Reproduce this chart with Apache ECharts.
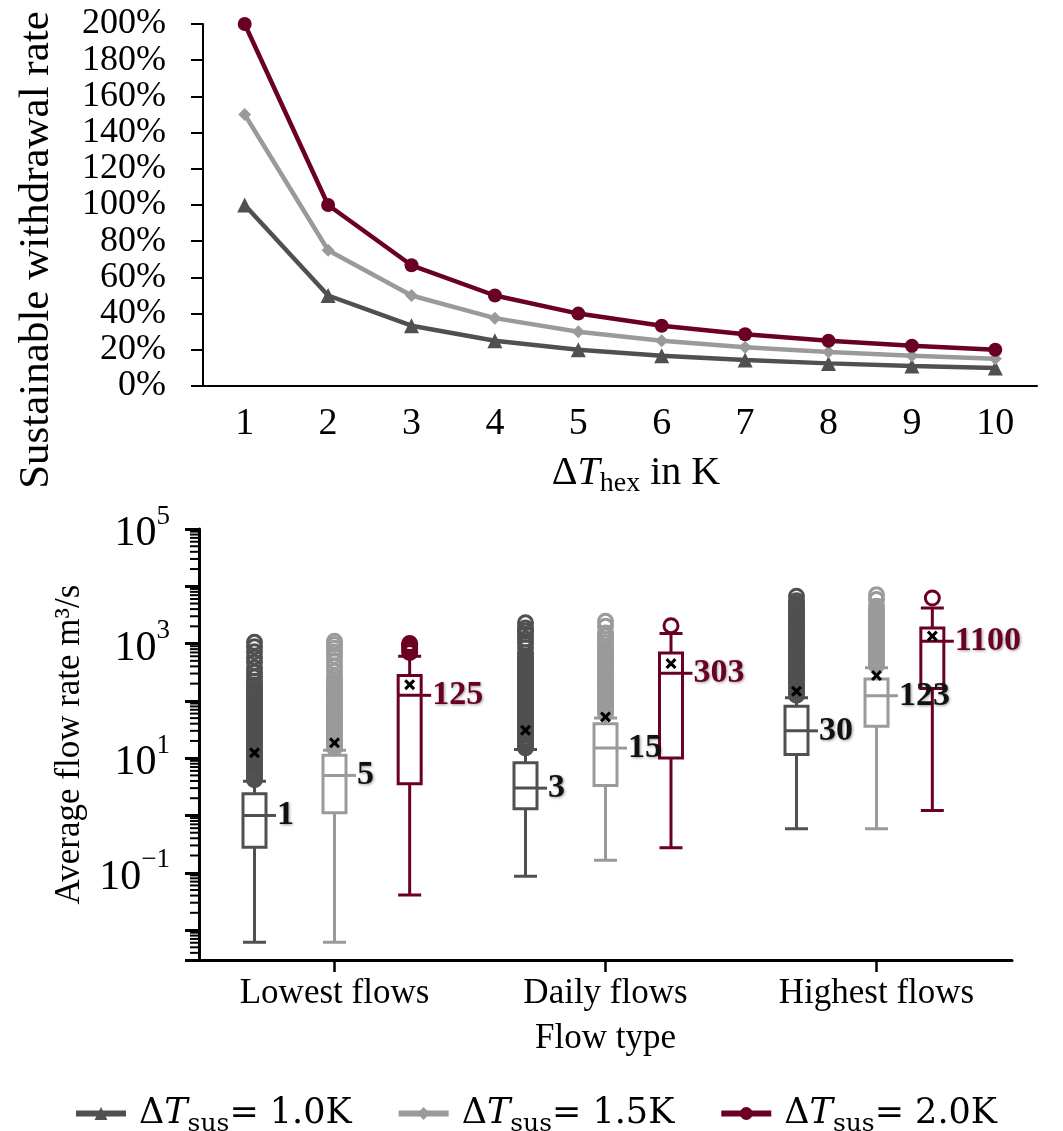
<!DOCTYPE html>
<html>
<head>
<meta charset="utf-8">
<title>Sustainable withdrawal rate and flow rates</title>
<script src="https://cdn.jsdelivr.net/npm/echarts@6/dist/echarts.min.js"></script>
<style>
    html, body { margin: 0; padding: 0; background: #fff; }
    #main { width: 1063px; height: 1131px; }
</style>
</head>
<body>
<div id="main"></div>
<script>
// 上图：ΔT_hex 对应的可持续取水率 (%)
var dtHex = ['1', '2', '3', '4', '5', '6', '7', '8', '9', '10'];
var rate10 = [100, 50, 33.3, 25, 20, 16.7, 14.3, 12.5, 11.1, 10];
var rate15 = [150, 75, 50, 37.5, 30, 25, 21.4, 18.8, 16.7, 15];
var rate20 = [200, 100, 66.7, 50, 40, 33.3, 28.6, 25, 22.2, 20];

// 下图：箱线图 [min, Q1, median, Q3, max]，单位 m³/s
var flowTypes = ['Lowest flows', 'Daily flows', 'Highest flows'];
var box10 = [[0.0061, 0.28, 1, 2.39, 3.95], [0.087, 1.31, 3, 8.28, 14.1], [0.585, 11.6, 30, 80.5, 113]];
var box15 = [[0.0061, 1.12, 5, 11.2, 13.8], [0.166, 3.33, 15, 39.7, 50], [0.585, 36, 123, 240, 380]];
var box20 = [[0.041, 3.56, 125, 276, 600], [0.273, 10.1, 303, 687, 1500], [1.22, 165, 1100, 1875, 4200]];

// 平均值 (x 标记)
var mean10 = [12.4, 30.7, 147];
var mean15 = [18.5, 52.5, 276];
var mean20 = [192, 447, 1350];

// 离群点
var out10 = [
    [4.2, 4.6, 5.1, 5.7, 6.3, 7, 7.8, 8.7, 9.6, 10.7, 11.9, 13.2, 14.7, 16.3, 18.1, 20.1, 22.4, 24.9, 27.6, 30.7,
        34.1, 37.9, 42, 46.7, 51.9, 57.6, 64, 71, 79, 88, 98, 109, 121, 134, 149, 166, 190, 220, 260, 315, 380, 470,
        580, 720, 880, 1050],
    [15, 16.6, 18.4, 20.4, 22.6, 25, 27.7, 30.7, 34, 37.7, 41.8, 46.3, 51.3, 56.9, 63, 70, 77.5, 86, 95, 105, 117,
        130, 144, 160, 177, 196, 217, 240, 266, 295, 327, 362, 401, 444, 492, 545, 604, 690, 850, 1020, 1200, 1450,
        1650, 1870, 2300],
    [125, 138, 153, 170, 188, 208, 231, 256, 283, 314, 348, 385, 427, 473, 524, 580, 643, 712, 789, 874, 968, 1070,
        1190, 1320, 1460, 1620, 1790, 1990, 2200, 2440, 2700, 3000, 3320, 3680, 4080, 4520, 5000, 5600, 6700]
];
var out15 = [
    [15, 16.6, 18.4, 20.4, 22.6, 25, 27.7, 30.7, 34, 37.7, 41.8, 46.3, 51.3, 56.9, 63, 70, 77.5, 86, 95, 105, 117,
        130, 144, 160, 180, 205, 235, 270, 330, 400, 490, 600, 710, 830, 960, 1100],
    [60, 66, 73, 81, 90, 100, 111, 123, 136, 151, 167, 185, 205, 227, 252, 279, 309, 342, 379, 420, 466, 516, 572,
        634, 702, 778, 890, 1020, 1180, 1350, 1530, 2000, 2450],
    [420, 465, 515, 570, 632, 700, 775, 860, 950, 1050, 1170, 1290, 1430, 1590, 1760, 1950, 2160, 2390, 2650, 2940,
        3250, 3600, 3900, 4470, 5860, 7100]
];
var out20 = [
    [700, 780, 860, 940, 1000],
    [2050],
    [6250]
];

// 对数轴的次刻度：每个数量级内的 2..9 倍
var minorMult = [2, 3, 4, 5, 6, 7, 8, 9];
var minorDecades = [-3, -2, -1, 0, 1, 2, 3, 4];

var colDark = '#505050';
var colLight = '#9a9a9a';
var colRed = '#6a0022';
var serif = 'Liberation Serif';

var crossPath = 'path://M0,2 L2,0 L5,3 L8,0 L10,2 L7,5 L10,8 L8,10 L5,7 L2,10 L0,8 L3,5 Z';

var myChart = echarts.init(document.getElementById('main'));

// 一组箱线图：箱体 + 离群点 + 平均值 + 中位数标签
function boxGroup(gi, stats, means, outs, color, textColor) {
    var outData = [];
    outs.forEach(function (arr, i) {
        arr.forEach(function (v) { outData.push([i, v]); });
    });
    return [{
        type: 'boxplot',
        xAxisIndex: gi,
        yAxisIndex: gi,
        data: stats,
        boxWidth: [23, 23],
        silent: true,
        z: 2,
        itemStyle: { color: '#fff', borderColor: color, borderWidth: 3 }
    }, {
        type: 'scatter',
        xAxisIndex: gi,
        yAxisIndex: gi,
        data: outData,
        symbol: 'circle',
        symbolSize: 14,
        silent: true,
        z: 3,
        itemStyle: { color: 'rgba(0,0,0,0)', borderColor: color, borderWidth: 3, opacity: 1 }
    }, {
        type: 'scatter',
        xAxisIndex: gi,
        yAxisIndex: gi,
        data: means.map(function (v, i) { return [i, v]; }),
        symbol: crossPath,
        symbolSize: 11,
        silent: true,
        z: 5,
        itemStyle: { color: '#000', opacity: 1 }
    }, {
        type: 'scatter',
        xAxisIndex: gi,
        yAxisIndex: gi,
        data: stats.map(function (s, i) { return [i, s[2]]; }),
        symbol: 'rect',
        symbolSize: [9, 3],
        symbolOffset: [17, 0],
        silent: true,
        z: 4,
        itemStyle: { color: color, opacity: 1 },
        label: {
            show: true,
            position: 'right',
            distance: 1,
            formatter: function (p) { return p.value[1]; },
            fontFamily: serif,
            fontSize: 34,
            fontWeight: 'bold',
            color: textColor,
            textShadowColor: 'rgba(0,0,0,0.4)',
            textShadowBlur: 3,
            textShadowOffsetX: 1,
            textShadowOffsetY: 1
        }
    }];
}

// 对数轴标签 10^n，只显示奇数次幂
function powLabel(v) {
    var lg = Math.log10(v);
    var e = Math.round(lg);
    if (Math.abs(lg - e) > 1e-6 || e % 2 === 0) return '';
    return '{b|10}{e|' + (e < 0 ? '\u2212' + (-e) : e) + '}';
}

function logAxis(gi, visible) {
    return {
        type: 'log',
        gridIndex: gi,
        min: 0.003,
        max: 100000,
        show: visible,
        splitLine: { show: false },
        axisLine: { show: true, lineStyle: { color: '#000', width: 3 } },
        axisTick: { show: true, length: 14, lineStyle: { color: '#000', width: 3 } },
        axisLabel: {
            margin: 29,
            formatter: powLabel,
            rich: {
                b: { fontFamily: serif, fontSize: 42, color: '#000', lineHeight: 52, verticalAlign: 'bottom' },
                e: { fontFamily: serif, fontSize: 27, color: '#000', lineHeight: 30, verticalAlign: 'top' }
            }
        },
        name: 'Average flow rate m\u00b3/s',
        nameLocation: 'middle',
        nameGap: 112,
        nameTextStyle: { fontFamily: serif, fontSize: 35, color: '#000' }
    };
}

function catAxis(gi, visible) {
    return {
        type: 'category',
        gridIndex: gi,
        data: flowTypes,
        show: visible,
        axisLine: { lineStyle: { color: '#000', width: 3 } },
        axisTick: { show: true, alignWithLabel: true, length: 12, lineStyle: { color: '#000', width: 2.5 } },
        axisLabel: { fontFamily: serif, fontSize: 35, color: '#000', margin: 16 },
        name: 'Flow type',
        nameLocation: 'middle',
        nameGap: 61,
        nameTextStyle: { fontFamily: serif, fontSize: 35, color: '#000' }
    };
}

var minorVals = [];
minorDecades.forEach(function (d) {
    minorMult.forEach(function (m) {
        var v = m * Math.pow(10, d);
        if (v > 0.003 && v < 100000) minorVals.push([0, v]);
    });
});

var subRich = {
    d: { fontFamily: serif, fontSize: 40, color: '#000', lineHeight: 40, verticalAlign: 'middle' },
    t: { fontFamily: serif, fontSize: 40, fontStyle: 'italic', color: '#000', lineHeight: 40, verticalAlign: 'middle' },
    s: { fontFamily: serif, fontSize: 28, color: '#000', lineHeight: 40, padding: [22, 0, 0, 0], verticalAlign: 'middle' }
};

var legRich = {
    d: { fontFamily: 'DejaVu Serif', fontSize: 35, color: '#000', lineHeight: 38, verticalAlign: 'middle' },
    t: { fontFamily: 'DejaVu Serif', fontSize: 35, fontStyle: 'italic', color: '#000', lineHeight: 38, verticalAlign: 'middle' },
    s: { fontFamily: 'DejaVu Serif', fontSize: 25, color: '#000', lineHeight: 38, padding: [22, 0, 0, 0], verticalAlign: 'middle' }
};

var series = [{
    name: '1.0K',
    type: 'line',
    xAxisIndex: 0,
    yAxisIndex: 0,
    data: rate10,
    symbol: 'triangle',
    symbolSize: 15,
    color: colDark,
    lineStyle: { width: 4.5 }
}, {
    name: '1.5K',
    type: 'line',
    xAxisIndex: 0,
    yAxisIndex: 0,
    data: rate15,
    symbol: 'diamond',
    symbolSize: 13,
    color: colLight,
    lineStyle: { width: 4.5 }
}, {
    name: '2.0K',
    type: 'line',
    xAxisIndex: 0,
    yAxisIndex: 0,
    data: rate20,
    symbol: 'circle',
    symbolSize: 14,
    color: colRed,
    lineStyle: { width: 4.5 }
}, {
    // 对数轴左侧的次刻度线
    type: 'custom',
    xAxisIndex: 2,
    yAxisIndex: 2,
    silent: true,
    clip: false,
    z: 10,
    data: minorVals,
    renderItem: function (params, api) {
        var p = api.coord([0, api.value(1)]);
        var x0 = params.coordSys.x;
        return {
            type: 'line',
            shape: { x1: x0 - 9, y1: p[1], x2: x0, y2: p[1] },
            style: { stroke: '#000', lineWidth: 2 }
        };
    }
}];

series = series
    .concat(boxGroup(1, box10, mean10, out10, colDark, '#111'))
    .concat(boxGroup(2, box15, mean15, out15, colLight, '#111'))
    .concat(boxGroup(3, box20, mean20, out20, colRed, colRed));

var option = {
    animation: false,
    backgroundColor: '#fff',
    grid: [
        { left: 203, right: 26, top: 24, height: 362 },
        { left: 119, width: 813, top: 529, height: 431 },
        { left: 199, width: 813, top: 529, height: 431 },
        { left: 279, width: 813, top: 529, height: 431 }
    ],
    legend: {
        data: ['1.0K', '1.5K', '2.0K'],
        left: 73,
        top: 1090,
        padding: 0,
        itemWidth: 50,
        itemHeight: 16,
        itemGap: 44,
        lineStyle: { width: 6 },
        formatter: function (name) {
            return '{d|\u0394}{t|T}{s|sus}{d|= ' + name + '}';
        },
        textStyle: { padding: [0, 0, 0, 8], rich: legRich }
    },
    xAxis: [{
        type: 'category',
        gridIndex: 0,
        data: dtHex,
        boundaryGap: true,
        axisLine: { lineStyle: { color: '#000', width: 2 } },
        axisTick: { show: false },
        axisLabel: { fontFamily: serif, fontSize: 38, color: '#000', margin: 19 },
        name: '{d|\u0394}{t|T}{s|hex}{d| in K}',
        nameLocation: 'middle',
        nameGap: 67,
        nameTextStyle: { padding: [0, 0, 0, 32], rich: subRich }
    }, catAxis(1, false), catAxis(2, true), catAxis(3, false)],
    yAxis: [{
        type: 'value',
        gridIndex: 0,
        min: 0,
        max: 200,
        interval: 20,
        splitLine: { show: false },
        axisLine: { show: true, lineStyle: { color: '#000', width: 2 } },
        axisTick: { show: true, length: 12, lineStyle: { color: '#000', width: 2 } },
        axisLabel: { fontFamily: serif, fontSize: 36, color: '#000', margin: 37, formatter: '{value}%' },
        name: 'Sustainable withdrawal rate',
        nameLocation: 'middle',
        nameGap: 145,
        nameTextStyle: { fontFamily: serif, fontSize: 43, color: '#000', padding: [0, 90, 0, 0] }
    }, logAxis(1, false), logAxis(2, true), logAxis(3, false)],
    series: series
};

myChart.setOption(option);
</script>
</body>
</html>
